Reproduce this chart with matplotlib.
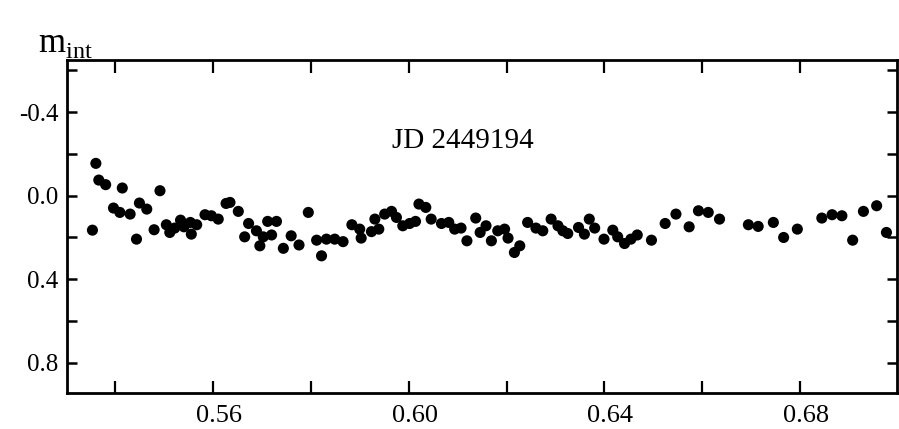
import matplotlib
matplotlib.use("Agg")
import matplotlib.pyplot as plt
from matplotlib.ticker import FixedLocator
from matplotlib.transforms import ScaledTranslation

plt.rcParams['font.family'] = ['Liberation Serif', 'DejaVu Serif']
plt.rcParams['mathtext.fontset'] = 'custom'
plt.rcParams['mathtext.rm'] = 'Liberation Serif'

phase = [0.5354, 0.5361, 0.5367, 0.5381, 0.5397, 0.5410, 0.5415, 0.5431, 0.5444, 0.5450,
         0.5465, 0.5480, 0.5492, 0.5505, 0.5512, 0.5522, 0.5534, 0.5541, 0.5554, 0.5556,
         0.5567, 0.5584, 0.5597, 0.5611, 0.5627, 0.5635, 0.5652, 0.5665, 0.5673, 0.5689,
         0.5696, 0.5703, 0.5712, 0.5720, 0.5730, 0.5744, 0.5760, 0.5776, 0.5795, 0.5812,
         0.5822, 0.5832, 0.5849, 0.5866, 0.5884, 0.5900, 0.5903, 0.5924, 0.5931, 0.5939,
         0.5951, 0.5965, 0.5975, 0.5988, 0.6002, 0.6014, 0.6021, 0.6035, 0.6046, 0.6067,
         0.6082, 0.6094, 0.6107, 0.6119, 0.6137, 0.6146, 0.6158, 0.6169, 0.6182, 0.6196,
         0.6203, 0.6216, 0.6227, 0.6243, 0.6260, 0.6274, 0.6291, 0.6305, 0.6315, 0.6325,
         0.6347, 0.6359, 0.6369, 0.6380, 0.6399, 0.6417, 0.6427, 0.6441, 0.6454, 0.6467,
         0.6496, 0.6524, 0.6546, 0.6573, 0.6592, 0.6612, 0.6635, 0.6694, 0.6714, 0.6745,
         0.6766, 0.6794, 0.6844, 0.6865, 0.6885, 0.6907, 0.6929, 0.6956, 0.6976]
m_int = [0.165, -0.155, -0.075, -0.053, 0.059, 0.080, -0.037, 0.088, 0.208, 0.035,
         0.064, 0.163, -0.024, 0.139, 0.176, 0.155, 0.117, 0.149, 0.128, 0.184,
         0.139, 0.091, 0.096, 0.112, 0.037, 0.032, 0.075, 0.197, 0.133, 0.168,
         0.240, 0.197, 0.123, 0.188, 0.123, 0.252, 0.192, 0.236, 0.080, 0.213,
         0.288, 0.208, 0.208, 0.220, 0.139, 0.160, 0.203, 0.172, 0.112, 0.160,
         0.088, 0.075, 0.104, 0.144, 0.133, 0.123, 0.040, 0.056, 0.112, 0.133,
         0.128, 0.160, 0.155, 0.216, 0.107, 0.176, 0.144, 0.216, 0.168, 0.160,
         0.203, 0.272, 0.240, 0.128, 0.155, 0.168, 0.112, 0.144, 0.168, 0.181,
         0.152, 0.184, 0.112, 0.155, 0.208, 0.165, 0.197, 0.229, 0.208, 0.188,
         0.213, 0.133, 0.088, 0.149, 0.072, 0.080, 0.112, 0.139, 0.147, 0.128,
         0.200, 0.160, 0.107, 0.091, 0.096, 0.213, 0.075, 0.048, 0.176]

x_major = [0.56, 0.60, 0.64, 0.68]
x_minor = [0.54, 0.58, 0.62, 0.66, 0.70]
x_labels = ["0.56", "0.60", "0.64", "0.68"]
y_major = [-0.4, 0.0, 0.4, 0.8]
y_minor = [-0.6, -0.2, 0.2, 0.6]
y_labels = ["-0.4", "0.0", "0.4", "0.8"]
annotation = "JD 2449194"
ylabel = r"$\mathrm{m}_{\mathrm{int}}$"

fig = plt.figure(figsize=(8.99, 4.29), dpi=100)
ax = fig.add_axes([0.0745, 0.084, 0.9235, 0.776])

ax.scatter(phase, m_int, s=64, color='black', edgecolors='none', zorder=3)

ax.set_xlim(0.5302, 0.6998)
ax.set_ylim(0.945, -0.65)

ax.xaxis.set_major_locator(FixedLocator(x_major))
ax.xaxis.set_minor_locator(FixedLocator(x_minor))
ax.set_xticklabels(x_labels)
ax.yaxis.set_major_locator(FixedLocator(y_major))
ax.yaxis.set_minor_locator(FixedLocator(y_minor))
ax.set_yticklabels(y_labels)

ax.tick_params(axis='x', which='both', direction='in', top=True, bottom=True,
               length=9, width=1.6, labelsize=19, pad=9)
ax.tick_params(axis='y', which='both', direction='in', left=True, right=True,
               length=7, width=1.8, labelsize=18, pad=6)
for s in ax.spines.values():
    s.set_linewidth(2.0)

shift = ScaledTranslation(6 / 100, 0, fig.dpi_scale_trans)
for lbl in ax.get_xticklabels():
    lbl.set_transform(lbl.get_transform() + shift)

ax.text(0.611, -0.263, annotation, fontsize=21, ha='center', va='center')
fig.text(0.042, 0.898, ylabel, fontsize=25, ha='left', va='center')

fig.savefig("out.png", dpi=100)
